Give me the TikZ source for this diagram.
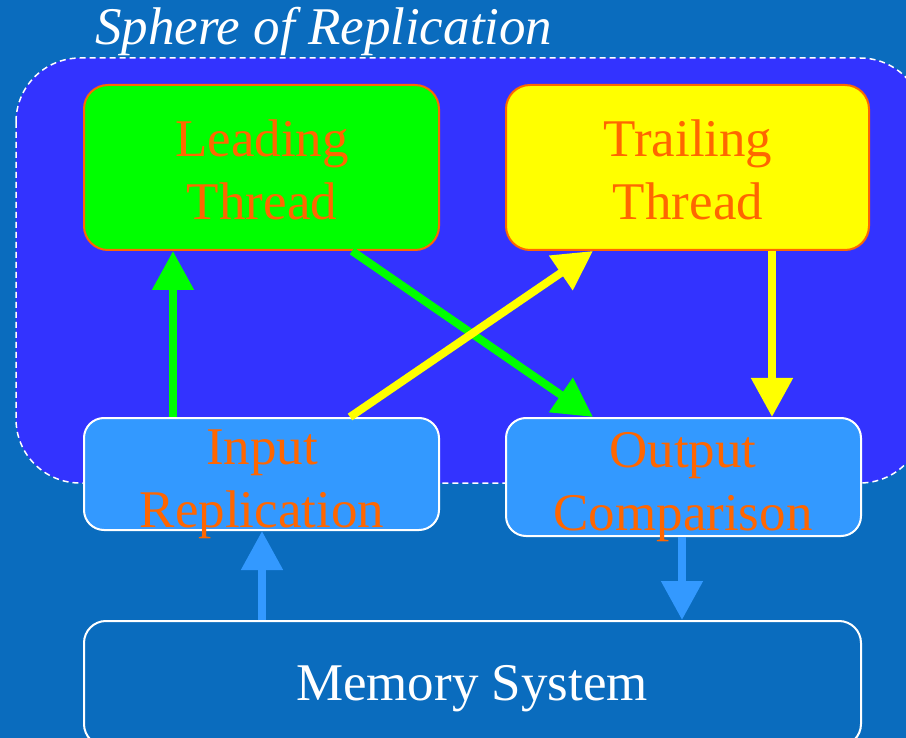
\documentclass[tikz,border=0pt]{standalone}
\usepackage{fontspec}
\setmainfont{Liberation Serif}
\usepackage{xcolor}
\usepackage{tikz}
\usetikzlibrary{arrows.meta}
\definecolor{slidebg}{RGB}{10,108,190}
\definecolor{sphere}{RGB}{51,51,255}
\definecolor{unitblue}{RGB}{51,153,255}
\definecolor{lblorange}{RGB}{255,102,0}
\definecolor{leadgreen}{RGB}{0,255,0}
\definecolor{trailyellow}{RGB}{255,255,0}

\begin{document}
\begin{tikzpicture}[x=1pt, y=-1pt, every node/.style={inner sep=0pt},
  big/.style={font=\fontsize{53}{63}\selectfont, align=center},
  box/.style={draw, rounded corners=24pt, line width=2pt},
  thread/.style={box, draw=lblorange},
  unit/.style={box, draw=white, fill=unitblue, rounded corners=20pt},
  lbl/.style={big, text=lblorange, anchor=base},
  arr/.style={-{Triangle[length=39pt, width=40pt]}, line width=8pt}]
\useasboundingbox (0,0) rectangle (906,738);
\fill[slidebg] (0,0) rectangle (906,738);
\clip (0,0) rectangle (906,738);
% sphere of replication
\draw[white, fill=sphere, line width=1.5pt, dash pattern=on 6pt off 4pt,
  rounded corners=64pt] (16,58) rectangle (924,483);
\node[big, font=\fontsize{53}{63}\selectfont\itshape, text=white,
  anchor=base west] (sor) at (95,45) {Sphere of Replication};
% threads
\node[thread, fill=leadgreen, minimum width=355pt, minimum height=165pt]
  (lead) at (261.5,167.5) {};
\node[thread, fill=trailyellow, minimum width=363pt, minimum height=165pt]
  (trail) at (687.5,167.5) {};
% replication and comparison units
\node[unit, minimum width=355pt, minimum height=112pt] (inp) at (261.5,474) {};
\node[unit, minimum width=355pt, minimum height=118pt] (outp) at (683.5,477) {};
% memory
\node[box, draw=white, fill=slidebg, rounded corners=22pt,
  minimum width=777pt, minimum height=125pt] (mem) at (472.5,683.5) {};
% connections
\draw[arr, leadgreen] ([xshift=-88.5pt]inp.north) -- ([xshift=-88.5pt]lead.south);
\draw[arr, leadgreen] ([xshift=90.5pt]lead.south) -- ([xshift=-90.5pt]outp.north);
\draw[arr, trailyellow] ([xshift=88.5pt]inp.north) -- ([xshift=-94.5pt]trail.south);
\draw[arr, trailyellow] ([xshift=84.5pt]trail.south) -- ([xshift=88.5pt]outp.north);
\draw[arr, unitblue] ([xshift=-210.5pt]mem.north) -- ([xshift=0.5pt]inp.south);
\draw[arr, unitblue] ([xshift=-1.5pt]outp.south) -- ([xshift=209.5pt]mem.north);
% labels (base is the last line)
\node[lbl] (leadtxt) at (262,220) {Leading\\Thread};
\node[lbl] (trailtxt) at (688,220) {Trailing\\Thread};
\node[lbl] (inptxt) at (262,527) {Input\\Replication};
\node[lbl] (outptxt) at (683,530) {Output\\Comparison};
\node[big, text=white, anchor=base] (memtxt) at (472,700) {Memory System};
\end{tikzpicture}
\end{document}
